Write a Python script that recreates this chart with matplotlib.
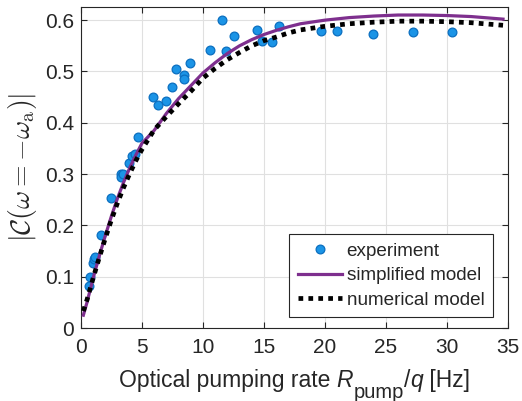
import matplotlib
matplotlib.use("Agg")
import matplotlib.pyplot as plt
from matplotlib.transforms import Affine2D

# experiment data
exp_x = [0.63, 0.77, 0.98, 1.07, 1.18, 1.61, 2.49, 3.25, 3.31, 3.47, 3.93, 4.21, 4.45,
         4.67, 5.93, 6.28, 6.94, 7.49, 7.79, 8.44, 8.44, 8.93, 10.55, 11.56, 11.89,
         12.57, 14.4, 14.81, 15.68, 16.2, 19.67, 21.0, 23.93, 27.25, 30.43]
exp_y = [0.082, 0.100, 0.127, 0.134, 0.138, 0.181, 0.253, 0.301, 0.295, 0.300, 0.322,
         0.335, 0.339, 0.373, 0.451, 0.435, 0.443, 0.470, 0.504, 0.494, 0.485, 0.516,
         0.542, 0.601, 0.539, 0.570, 0.581, 0.559, 0.557, 0.589, 0.579, 0.579, 0.573,
         0.577, 0.577]

# model curves
model_x = [0.2, 0.5, 1.0, 1.5, 2.0, 2.5, 3.0, 3.5, 4.0, 4.5, 5.0, 6.0, 7.0, 8.0, 9.0,
           10.0, 11.0, 12.0, 13.0, 14.0, 15.0, 16.0, 17.0, 18.0, 20.0, 22.0, 24.0,
           26.0, 28.0, 30.0, 32.0, 34.6]
simp_y = [0.025, 0.050, 0.097, 0.140, 0.180, 0.218, 0.253, 0.284, 0.312, 0.337, 0.360,
          0.385, 0.418, 0.447, 0.472, 0.497, 0.517, 0.535, 0.550, 0.562, 0.572, 0.580,
          0.587, 0.593, 0.600, 0.605, 0.608, 0.610, 0.610, 0.609, 0.607, 0.602]
num_y = [0.033, 0.055, 0.097, 0.137, 0.175, 0.211, 0.244, 0.274, 0.301, 0.326, 0.348,
         0.386, 0.412, 0.437, 0.461, 0.487, 0.506, 0.523, 0.537, 0.550, 0.560, 0.567,
         0.575, 0.581, 0.588, 0.593, 0.596, 0.598, 0.598, 0.597, 0.595, 0.590]

xticks = [0, 5, 10, 15, 20, 25, 30, 35]
yticks = [0, 0.1, 0.2, 0.3, 0.4, 0.5, 0.6]
ytick_labels = ["0", "0.1", "0.2", "0.3", "0.4", "0.5", "0.6"]

# x label pieces: (text, style, size, baseline shift in px)
xlabel_parts = [("Optical pumping rate ", "normal", 16.5, 0),
                ("R", "italic", 16.5, 0),
                ("pump", "normal", 14.5, -11),
                ("/", "normal", 16.5, 0),
                ("q", "italic", 16.5, 0),
                (" [Hz]", "normal", 16.5, 0)]

plt.rcParams['font.family'] = ['Liberation Sans', 'DejaVu Sans']
tc = '#262626'

fig = plt.figure(figsize=(5.22, 4.01), dpi=100)
ax = fig.add_axes([0.155, 0.182, 0.818, 0.801])

ax.plot(exp_x, exp_y, 'o', ms=6.3, mfc='#1B94E6', mec='#0B6FC0', mew=0.9,
        label='experiment', zorder=3)
ax.plot(model_x, simp_y, '-', color='#7E2F8E', lw=2.3, label='simplified model', zorder=4)
ax.plot(model_x, num_y, color='black', lw=3.4, linestyle=(0, (1.0, 1.1)),
        label='numerical model', zorder=5)

ax.set_xlim(0, 35)
ax.set_ylim(0, 0.626)
ax.set_xticks(xticks)
ax.set_yticks(yticks)
ax.set_yticklabels(ytick_labels)
ax.grid(True, color='#e0e0e0', lw=0.8)
ax.set_axisbelow(True)
ax.tick_params(direction='in', top=True, right=True, labelsize=15, colors=tc,
               length=4, width=0.8)
ax.tick_params(axis='x', pad=7)
ax.tick_params(axis='y', pad=5)
for s in ax.spines.values():
    s.set_color(tc)
    s.set_linewidth(0.8)

ax.set_ylabel(r'$|\mathcal{C}(\omega=-\omega_{\rm a})|$', fontsize=20, color=tc,
              labelpad=4, math_fontfamily='cm')

leg = ax.legend(loc='lower right', bbox_to_anchor=(0.965, 0.034), fontsize=13.6,
                fancybox=False, framealpha=1, edgecolor=tc, handlelength=2.35,
                borderpad=0.45, labelspacing=0.38, handletextpad=0.25, borderaxespad=0)
leg.get_frame().set_linewidth(0.8)
for t in leg.get_texts():
    t.set_color(tc)

# compose x label from pieces (sans-serif subscript like the original)
fig.canvas.draw()
renderer = fig.canvas.get_renderer()
texts = []
widths = []
for s, style, size, dy in xlabel_parts:
    t = fig.text(0, 0, s, fontsize=size, style=style, color=tc,
                 ha='left', va='baseline', transform=None)
    w = t.get_window_extent(renderer).width
    texts.append(t)
    widths.append(w)
total = sum(widths)
axbox = ax.get_window_extent(renderer)
cx = (axbox.x0 + axbox.x1) / 2.0
x0 = cx - total / 2.0
base_y = 14
cur = x0
for t, w, part in zip(texts, widths, xlabel_parts):
    t.set_position((cur, base_y + part[3]))
    cur += w

fig.savefig('out.png', dpi=100)
